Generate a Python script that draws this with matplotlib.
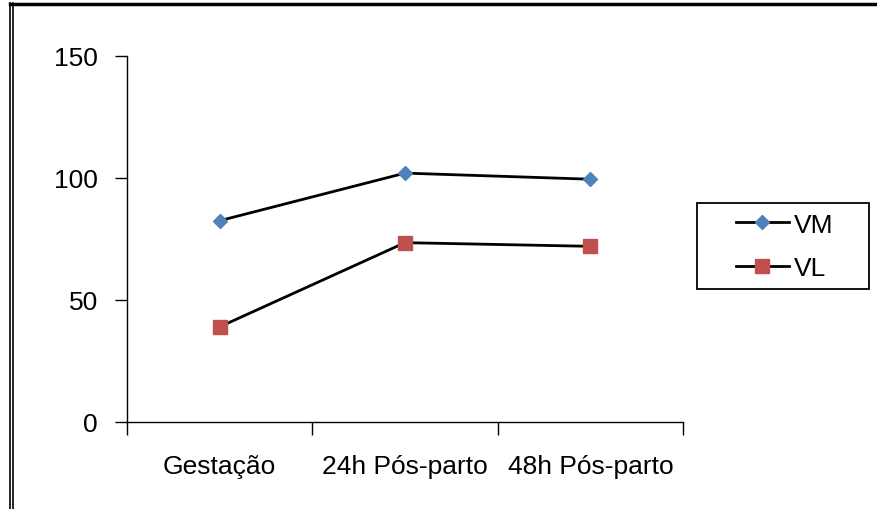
import matplotlib
matplotlib.use("Agg")
import matplotlib.pyplot as plt
from matplotlib.lines import Line2D
from matplotlib.patches import Rectangle

categories = ["Gestação", "24h Pós-parto", "48h Pós-parto"]
vm = [82.5, 102, 99.5]
vl = [39, 73.5, 72]

plt.rcParams['font.family'] = ['Liberation Sans', 'DejaVu Sans']

fig = plt.figure(figsize=(8.77, 5.10), dpi=100)
W, H = 877, 510
ax = fig.add_axes([127 / W, 1 - 423 / H, (683 - 127) / W, (423 - 57) / H])

x = list(range(len(categories)))
ax.plot(x, vm, color='black', lw=2, marker='D', ms=7, mfc='#4f81bd', mec='#4f81bd', label='VM')
ax.plot(x, vl, color='black', lw=2, marker='s', ms=10, mfc='#c0504d', mec='#c0504d', label='VL')

ax.set_xlim(-0.5, 2.5)
ax.set_ylim(0, 150)
ax.set_yticks([0, 50, 100, 150])
ax.set_xticks(x)
ax.set_xticklabels(categories)
ax.set_xticks([-0.5, 0.5, 1.5, 2.5], minor=True)
ax.tick_params(axis='x', which='major', length=0, pad=23, labelsize=19)
ax.tick_params(axis='x', which='minor', length=9, width=1, direction='out')
ax.tick_params(axis='y', length=9, width=1, direction='out', pad=12, labelsize=19)
for s in ['top', 'right']:
    ax.spines[s].set_visible(False)
for s in ['left', 'bottom']:
    ax.spines[s].set_linewidth(1)

leg = fig.legend(loc='center left', bbox_to_anchor=(736 / W, 1 - 247.5 / H),
                 frameon=False, fontsize=19, borderpad=0, borderaxespad=0,
                 handlelength=2.0, labelspacing=0.75, handletextpad=0.2)

fig.add_artist(Rectangle((697 / W, 1 - 290 / H), (869 - 697) / W, (290 - 204) / H,
                         fill=False, edgecolor='black', lw=1.3, transform=fig.transFigure))

# figure border
fig.add_artist(Line2D([10 / W, 876 / W], [1 - 5 / H, 1 - 5 / H], color='black', lw=2.5, transform=fig.transFigure))
fig.add_artist(Line2D([9.5 / W, 9.5 / W], [0, 1 - 4 / H], color='black', lw=1.2, transform=fig.transFigure))
fig.add_artist(Line2D([12.5 / W, 12.5 / W], [0, 1 - 4 / H], color='black', lw=1.2, transform=fig.transFigure))

fig.savefig('out.png', dpi=100)
